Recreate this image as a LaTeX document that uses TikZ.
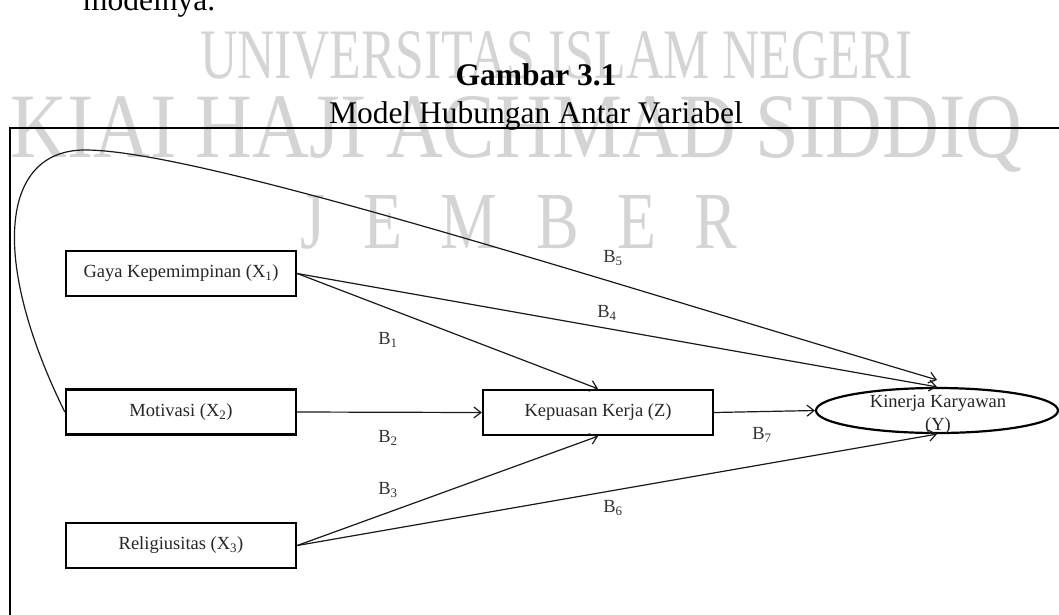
\documentclass[tikz,border=0pt]{standalone}
\usepackage{fontspec}
\setmainfont{Liberation Serif}
\usetikzlibrary{arrows.meta,shapes.geometric,calc}
\begin{document}
\begin{tikzpicture}[x=1pt,y=-1pt,
  varbox/.style={draw=black,line width=2.4pt,rectangle,minimum width=230pt,minimum height=45pt,inner sep=0pt,font=\fontsize{18.5}{22}\selectfont,text=black!85},
  elbox/.style={draw=black,line width=2.2pt,ellipse,minimum width=242pt,minimum height=45pt,inner sep=0pt},
  conn/.style={line width=1.2pt,draw=black!90,-{Straight Barb[length=7pt,width=11pt,line width=1.2pt]}},
  coef/.style={font=\fontsize{18.5}{22}\selectfont,text=black!80,inner sep=0pt},
  wm/.style={text=black!17,inner sep=0pt,anchor=base west},
  ttl/.style={font=\fontsize{31.5}{38}\selectfont,inner sep=0pt,anchor=base},
  lbl/.style={font=\fontsize{18.5}{22}\selectfont,text=black!85,inner sep=0pt,anchor=base}]
\useasboundingbox (0,0) rectangle (1059,614);
\fill[white] (0,0) rectangle (1059,614);
% watermark
\node[wm] (wm1) at (200,78) {\resizebox{712pt}{47pt}{UNIVERSITAS ISLAM NEGERI}};
\node[wm] (wm2) at (10,157) {\resizebox{1012pt}{61pt}{KIAI HAJI ACHMAD SIDDIQ}};
\node[wm] (wm3) at (300,248) {\resizebox{437pt}{53pt}{J\hspace{0.6em}E\hspace{0.6em}M\hspace{0.6em}B\hspace{0.6em}E\hspace{0.6em}R}};
% text above
\node[ttl,anchor=base west] (mod) at (83,10) {modelnya.};
\node[ttl] (gam) at (536,85) {\bfseries Gambar 3.1};
\node[ttl] (mhv) at (536,123) {Model Hubungan Antar Variabel};
% frame
\draw[line width=2pt] (10,620) -- (10,128) -- (1065,128);
% nodes
\node[varbox] (gaya) at (181,273.5) {Gaya Kepemimpinan (X\textsubscript{1})};
\node[varbox] (mot) at (181,412) {Motivasi (X\textsubscript{2})};
\node[varbox] (rel) at (181,545.5) {Religiusitas (X\textsubscript{3})};
\node[varbox] (kep) at (598,412.5) {Kepuasan Kerja (Z)};
\node[elbox] (kin) at (937,410.5) {};
\node[lbl] (kin1) at (938,407) {Kinerja Karyawan};
\node[lbl] (kin2) at (938,430) {(Y)};
% connectors
\draw[conn] (gaya.east) -- (kep.north);
\draw[conn] (gaya.east) -- (kin.north);
\draw[conn] (mot.east) -- (kep.west);
\draw[conn] (rel.east) -- (kep.south);
\draw[conn] (rel.east) -- (kin.south);
\draw[conn] (kep.east) -- (kin.west);
\draw[conn] (mot.west) .. controls (-10,260) and (0,150) .. (85,150)
  .. controls (200,150) and (600,280) .. ([yshift=7pt]kin.north);
% coefficients
\node[coef] (b1) at (388,340) {B\textsubscript{1}};
\node[coef] (b2) at (388,438) {B\textsubscript{2}};
\node[coef] (b3) at (388,490) {B\textsubscript{3}};
\node[coef] (b4) at (607,313) {B\textsubscript{4}};
\node[coef] (b5) at (613,258) {B\textsubscript{5}};
\node[coef] (b6) at (613,508) {B\textsubscript{6}};
\node[coef] (b7) at (762,435) {B\textsubscript{7}};
\end{tikzpicture}
\end{document}
